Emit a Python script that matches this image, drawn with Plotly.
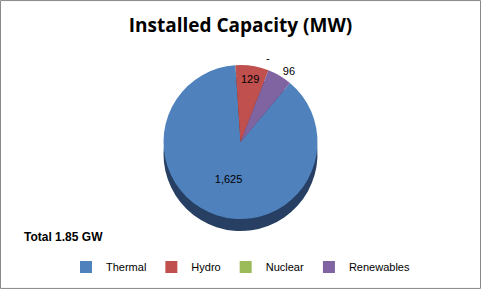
import plotly.graph_objects as go

categories = ["Thermal", "Hydro", "Nuclear", "Renewables"]
values = [1625, 129, 0, 96]
face_colors = ["#4f81bd", "#c0504d", "#9bbb59", "#8064a2"]
side_colors = ["#263f63", "#6b2b29", "#56692f", "#46375a"]
total_label = "Total 1.85 GW"

labels_text = [f"{v:,}" if v else "" for v in values]
zero_labels = [(c, "-") for c, v in zip(categories, values) if v == 0]

W, H = 481, 289
face_top, face_bot = 65, 219
depth = 12

def dom(top, bot):
    return [1 - bot / H, 1 - top / H]

fig = go.Figure()
# side of the 3D pie
fig.add_trace(go.Pie(
    labels=categories, values=values, sort=False, direction="clockwise", rotation=40,
    marker=dict(colors=side_colors, line=dict(width=0)),
    textinfo="none", hoverinfo="skip", showlegend=False,
    domain=dict(x=[0, 1], y=dom(face_top + depth, face_bot + depth)),
))
# face
fig.add_trace(go.Pie(
    labels=categories, values=values, sort=False, direction="clockwise", rotation=40,
    marker=dict(colors=face_colors, line=dict(width=0)),
    text=labels_text, textinfo="text",
    textposition=["inside", "inside", "none", "outside"],
    insidetextorientation="horizontal",
    textfont=dict(family="Liberation Sans, Arial", size=11, color="#000000"),
    domain=dict(x=[0, 1], y=dom(face_top, face_bot)),
))

annotations = [dict(text="<b>" + total_label + "</b>", x=22 / W, y=1 - 237 / H,
                    xref="paper", yref="paper", xanchor="left", yanchor="middle",
                    showarrow=False,
                    font=dict(family="Liberation Sans, Arial", size=12, color="#000000"))]
for _, t in zero_labels:
    annotations.append(dict(text=t, x=268 / W, y=1 - 58 / H, xref="paper", yref="paper",
                            xanchor="center", yanchor="middle",
                            showarrow=False, font=dict(family="Liberation Sans, Arial", size=11,
                                                       color="#000000")))

fig.update_layout(
    width=W, height=H,
    margin=dict(l=0, r=0, t=0, b=0, autoexpand=False),
    paper_bgcolor="white", plot_bgcolor="white",
    title=dict(text="<b>Installed Capacity (MW)</b>", x=0.5, xanchor="center",
               y=1 - 25 / H, yanchor="middle",
               font=dict(family="Open Sans", size=19, color="#000000")),
    legend=dict(orientation="h", x=0.5, xanchor="center", y=1 - 267 / H, yanchor="middle",
                font=dict(family="Liberation Sans, Arial", size=11, color="#000000"),
                itemwidth=30, tracegroupgap=0),
    annotations=annotations,
    shapes=[dict(type="rect", xref="paper", yref="paper", x0=0.001, y0=0.002, x1=0.999, y1=0.998,
                 line=dict(color="#878787", width=1))],
)

fig.write_html("out.html")
